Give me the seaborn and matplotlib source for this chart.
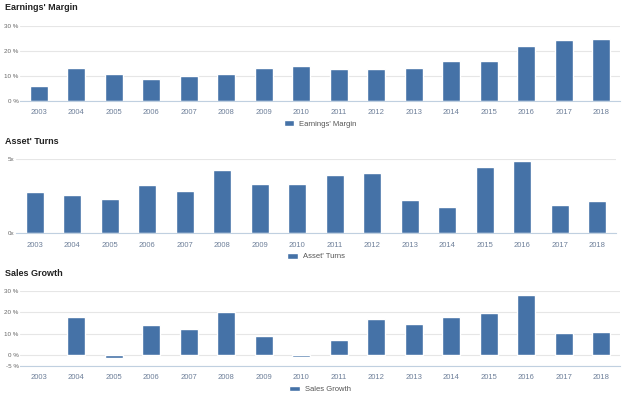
import numpy as np
import pandas as pd
import seaborn as sns
import matplotlib.pyplot as plt

years = [str(y) for y in range(2003, 2019)]
earnings_margin = [6.0, 13.2, 10.5, 8.8, 9.8, 10.5, 13.2, 14.0, 12.8, 12.5, 12.9, 16.0, 16.0, 22.0, 24.4, 24.8]
asset_turns = [2.78, 2.6, 2.33, 3.23, 2.85, 4.24, 3.32, 3.32, 3.9, 4.04, 2.26, 1.79, 4.44, 4.87, 1.88, 2.15]
sales_growth = [np.nan, 18.0, -1.2, 14.2, 12.1, 20.1, 9.1, -0.7, 6.9, 16.9, 14.5, 17.9, 19.6, 28.2, 10.3, 11.0]

bar_color = "#4572A7"
grid_color = "#e6e6e6"
axis_color = "#c0d0e0"
label_color = "#666666"

sns.set_theme(style="white")
plt.rcParams["font.family"] = ["Liberation Sans", "DejaVu Sans"]

fig = plt.figure(figsize=(6.24, 3.97), dpi=100)
W, H = 624, 397

panels = [
    ("Earnings' Margin", earnings_margin, 25.7, 100.7, (0, 30), [0, 10, 20, 30], "{:g} %", 20, 8),
    ("Asset' Turns", asset_turns, 159, 233.3, (0, 5), [0, 5], "{:g}x", 16, 141),
    ("Sales Growth", sales_growth, 290.7, 366, (-5, 30), [-5, 0, 10, 20, 30], "{:g} %", 20, 273),
]

for title, vals, top, bottom, ylim, yticks, fmt, left, title_y in panels:
    ax = fig.add_axes([left / W, 1 - bottom / H, 600 / W, (bottom - top) / H])
    df = pd.DataFrame({"year": years, "value": vals})
    sns.barplot(data=df, x="year", y="value", order=years, color=bar_color,
                width=0.47, saturation=1, label=title, ax=ax)
    ax.set_ylim(*ylim)
    ax.set_xlim(-0.5, len(years) - 0.5)
    ax.set_yticks(yticks)
    ax.set_yticklabels([fmt.format(t) for t in yticks])
    ax.set_xlabel("")
    ax.set_ylabel("")
    ax.yaxis.grid(True, color=grid_color, linewidth=0.8)
    ax.set_axisbelow(True)
    for s in ["top", "right", "left"]:
        ax.spines[s].set_visible(False)
    ax.spines["bottom"].set_color(axis_color)
    ax.spines["bottom"].set_linewidth(0.8)
    ax.tick_params(axis="y", length=0, labelsize=4.5, labelcolor=label_color, pad=1)
    ax.tick_params(axis="x", which="major", length=0, labelsize=5.5, labelcolor="#6d7f99", pad=6)
    ax.set_xticks(np.arange(-0.5, len(years)), minor=True)
    ax.tick_params(axis="x", which="minor", length=5, color=axis_color, width=0.8)
    ax.legend(loc="upper center", bbox_to_anchor=(0.5, -0.22), frameon=False,
              fontsize=5.5, labelcolor="#555555", handlelength=1.4, handleheight=0.8,
              handletextpad=0.6, borderaxespad=0)
    fig.text(5 / W, 1 - title_y / H, title, fontsize=6.5, fontweight="bold",
             color="#222222", va="center", ha="left")

fig.savefig("out.png", dpi=100)
